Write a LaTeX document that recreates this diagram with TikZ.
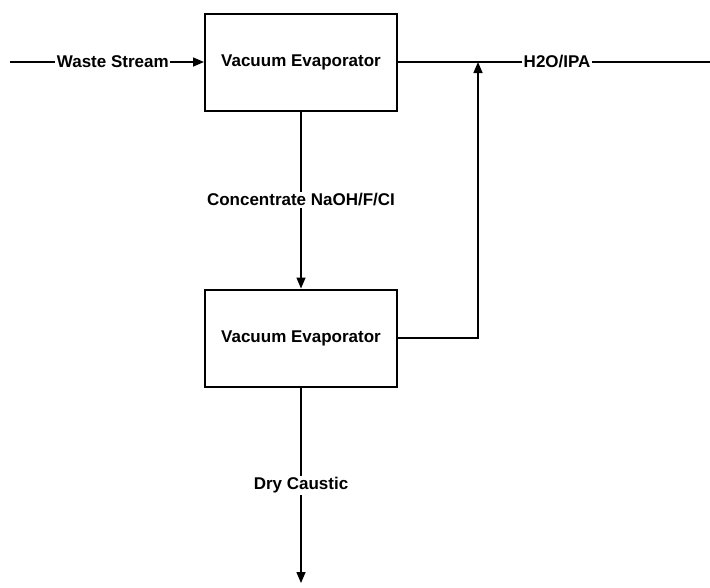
\documentclass[tikz,border=0pt]{standalone}
\usepackage{fontspec}
\setmainfont{Liberation Sans}
\usetikzlibrary{arrows.meta, positioning}

\begin{document}
\begin{tikzpicture}[x=1pt, y=-1pt, >={Triangle[length=11pt, width=9pt]}, line width=1.5pt,
  font=\fontsize{17}{20}\selectfont\bfseries, node distance=177pt,
  evap/.style={draw, line width=2pt, minimum width=192pt, minimum height=97pt, align=center},
  lbl/.style={fill=white, inner sep=1.5pt}]
  \useasboundingbox (0,0) rectangle (710,587);
  \node[evap] (ev1) at (301,62) {Vacuum Evaporator};
  \node[evap, below=of ev1] (ev2) {Vacuum Evaporator};
  \coordinate (src) at (10,62);
  \coordinate (sink) at (710,62);
  \coordinate (jn) at (478,62);
  \coordinate (dry) at (301,583);
  % Feed
  \draw[->] (src) -- node[lbl, pos=0.53]{Waste Stream} (ev1);
  % Vapour
  \draw (ev1) -- node[lbl, pos=0.51]{H2O/IPA} (sink);
  \draw[->] (ev2) -| (jn);
  % Concentrate
  \draw[->] (ev1) -- node[lbl]{Concentrate NaOH/F/CI} (ev2);
  \draw[->] (ev2) -- node[lbl]{Dry Caustic} (dry);
\end{tikzpicture}
\end{document}
